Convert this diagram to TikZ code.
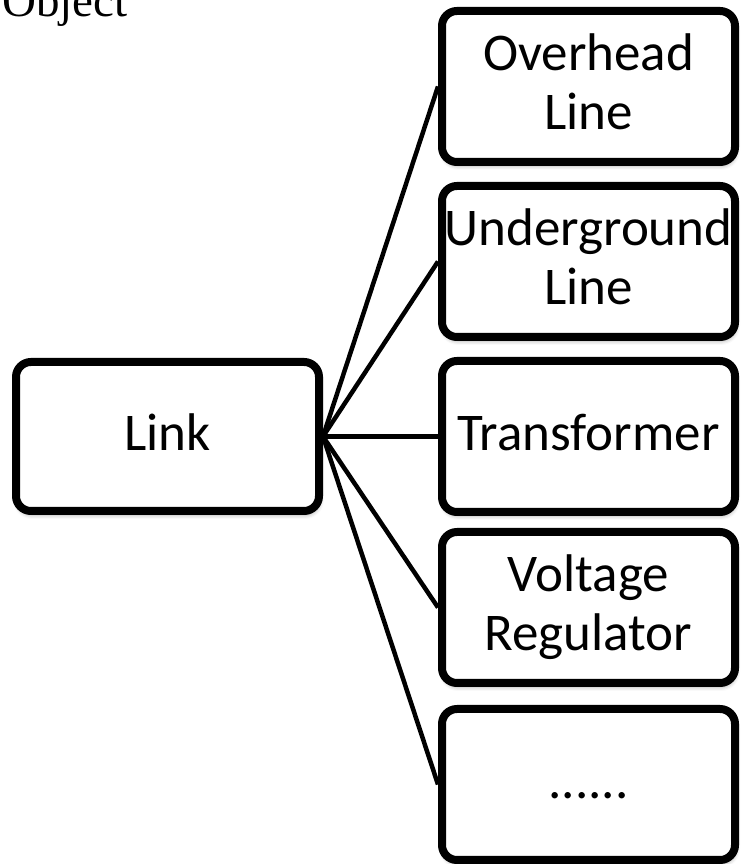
\documentclass[tikz,border=0pt]{standalone}
\usepackage{fontspec}
\setmainfont{Carlito}
\newfontfamily\timesf{Liberation Serif}
\usetikzlibrary{shadows.blur}
\begin{document}
\begin{tikzpicture}[x=1pt,y=1pt,
  box/.style={draw=black, line width=8pt, rounded corners=15pt, fill=white,
    minimum width=293pt, minimum height=151pt, inner sep=0pt, align=center,
    font=\fontsize{53}{59}\selectfont,
    blur shadow={shadow xshift=1pt, shadow yshift=-4pt, shadow blur radius=4pt, shadow opacity=35}},
  oneline/.style={text height=36pt, text depth=8pt},
  twoline/.style={text depth=10pt},
  conn/.style={line width=4.5pt, line cap=butt}]
\useasboundingbox (0,0) rectangle (740,864);
\node[font=\timesf\fontsize{47}{56}\selectfont, anchor=base west, inner sep=0pt] (obj) at (2,847) {Object};
\node[box, oneline, minimum width=303pt, minimum height=149pt] (link) at (167.5,427.5) {Link};
\node[box, twoline] (b1) at (588.5,777.5) {Overhead\\Line};
\node[box, twoline] (b2) at (588.5,602.5) {Underground\\Line};
\node[box, oneline] (b3) at (588.5,427.5) {Transformer};
\node[box, twoline] (b4) at (588.5,256.5) {Voltage\\Regulator};
\node[box, oneline] (b5) at (588.5,79.5) {......};
\foreach \b in {b1,b2,b3,b4,b5}
  \draw[conn] (link.east) -- (\b.west);
\end{tikzpicture}
\end{document}
